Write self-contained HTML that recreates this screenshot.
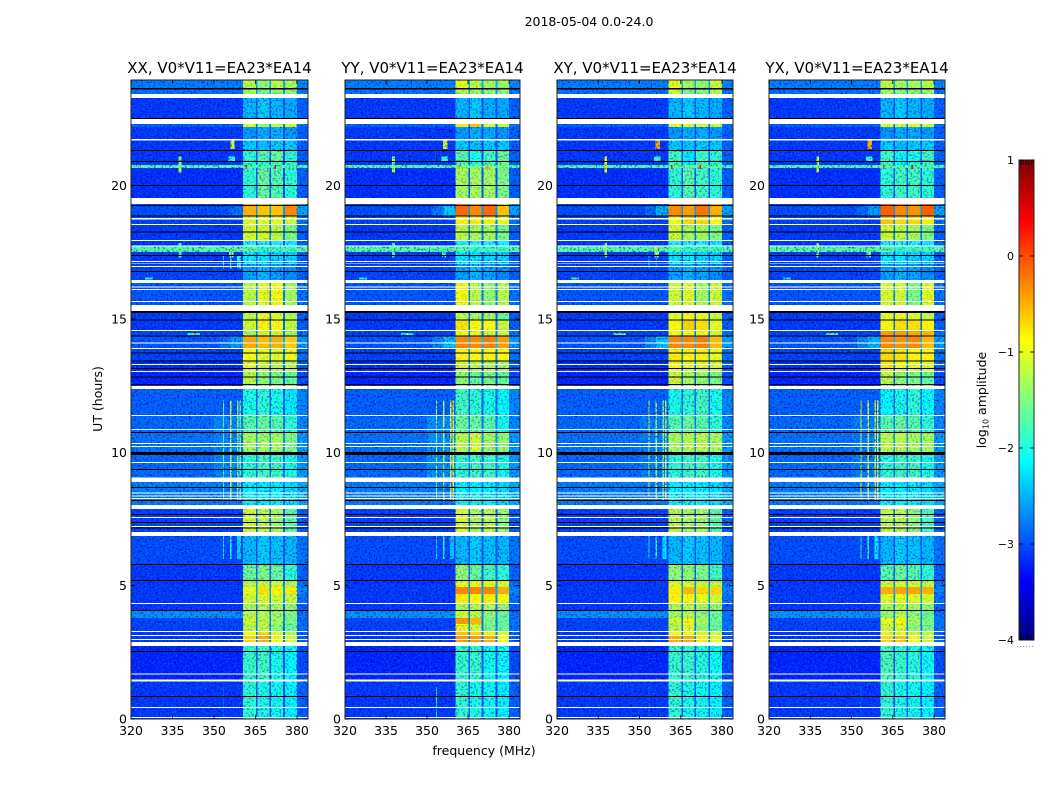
<!DOCTYPE html>
<html>
<head>
<meta charset="utf-8">
<title>2018-05-04 0.0-24.0</title>
<style>
html,body{margin:0;padding:0;background:#fff;width:1050px;height:800px;overflow:hidden}
svg{display:block}
text{font-family:"DejaVu Sans",sans-serif;fill:#000}
</style>
</head>
<body>
<svg id="chart" width="1050" height="800" viewBox="0 0 1050 800" xmlns="http://www.w3.org/2000/svg">
<defs>
<filter id="noiseDark" x="0" y="0" width="100%" height="100%" color-interpolation-filters="sRGB">
<feTurbulence type="fractalNoise" baseFrequency="0.55" numOctaves="1" seed="4"/>
<feColorMatrix type="matrix" values="0 0 0 0 0  0 0 0 0 0  0 0 0 0 0.6  6 0 0 0 -3.1"/>
</filter>
<filter id="noiseLight" x="0" y="0" width="100%" height="100%" color-interpolation-filters="sRGB">
<feTurbulence type="fractalNoise" baseFrequency="0.6" numOctaves="1" seed="11"/>
<feColorMatrix type="matrix" values="0 0 0 0 0  0 0 0 0 0.72  0 0 0 0 1  6 0 0 0 -3.3"/>
</filter>
</defs>
<text x="589" y="26" font-size="12.5" text-anchor="middle">2018-05-04 0.0-24.0</text>
<text x="0" y="0" font-size="12.5" text-anchor="middle" transform="translate(102,399) rotate(-90)">UT (hours)</text>
<text x="484" y="755" font-size="12.5" text-anchor="middle">frequency (MHz)</text>
<text x="0" y="0" font-size="12.5" text-anchor="middle" transform="translate(986,400) rotate(-90)">log<tspan font-size="8" dy="2.5">10</tspan><tspan dy="-2.5"> amplitude</tspan></text>
</svg>
<script>
/* ---------- data ---------- */
var panelNames = ['XX','YY','XY','YX'];
var panelTitle = ', V0*V11=EA23*EA14';
var xTicks = [320,335,350,365,380];
var yTicks = [0,5,10,15,20];
var colorbarTicks = [1,0,-1,-2,-3,-4];
var bandEdges = [[360.5,365.2],[365.8,370],[370.6,375],[375.7,380]];
var gapEdges = [[365.2,365.8],[370,370.6],[375,375.7]];

/* top hour of every time row (descending); last row ends at 0 */
var rowTopHours = [23.96,23.62,23.36,22.38,22.2,21.71,21.3,20.89,20.77,20.66,19.42,18.86,18.56,17.96,17.73,17.51,17.06,16.39,15.41,14.96,14.59,14.36,13.87,13.42,13.01,12.41,11.4,10.72,9.94,8.96,7.95,6.94,5.81,5.17,4.95,4.69,4.31,4.05,3.79,3.56,3.3,3.15,2.81,1.46];
/* log10 amplitude of the band-free background per row */
var backgroundLevels = [-2.75,-2.8,-3.1,-2.9,-3.1,-3.1,-3.1,-3.1,-1.75,-3.15,-3.0,-3.05,-3.1,-3.1,-1.7,-3.1,-3.05,-2.95,-3.1,-3.1,-3.05,-2.95,-3.05,-3.15,-3.2,-2.9,-2.85,-2.8,-2.85,-2.75,-3.05,-3.0,-3.1,-3.1,-3.1,-3.1,-3.1,-2.65,-3.05,-3.05,-3.1,-3.1,-3.2,-3.1];
var gapLevels = [-2.5,-2.6,-2.95,-2.8,-3,-3,-2.95,-2.9,-1.8,-2.95,-2.6,-2.7,-2.75,-2.95,-1.8,-2.95,-3,-2.75,-2.85,-2.85,-2.75,-2.45,-2.75,-2.85,-2.95,-2.85,-2.75,-2.6,-2.75,-2.65,-2.85,-2.95,-2.85,-2.65,-2.55,-2.65,-2.85,-2.75,-2.75,-2.75,-2.75,-2.75,-2.95,-2.95];
var rightEdgeLevels = [-2.7,-2.8,-2.9,-2.8,-2.9,-2.9,-2.9,-2.9,-1.75,-2.9,-2.55,-2.8,-2.9,-2.9,-1.7,-2.9,-2.9,-2.8,-2.9,-2.9,-2.8,-2.6,-2.8,-2.9,-3,-2.7,-2.7,-2.6,-2.6,-2.5,-2.9,-2.8,-2.9,-2.8,-2.7,-2.8,-2.9,-2.8,-2.8,-2.8,-2.9,-2.9,-3,-2.9];

/* four band levels per time row, per polarisation */
var bandLevelsXX = [[-1.2,-1.4,-1.2,-1.3],[-1.3,-1.5,-1.4,-1.4],[-2.45,-2.35,-2.45,-2.5],[-1,-1.3,-1.1,-1],[-2.6,-2.5,-2.5,-2.6],[-2.35,-2.4,-2.35,-2.35],[-1.9,-1.7,-1.6,-1.9],[-1.9,-1.9,-1.8,-1.9],[-1.7,-1.7,-1.7,-1.7],[-1.9,-1.6,-1.7,-1.9],[-0.5,-0.6,-0.6,-0.3],[-1,-1,-1,-1.1],[-1.1,-1.1,-1.2,-1.5],[-2,-1.9,-2,-2.1],[-1.7,-1.9,-1.8,-1.8],[-2.2,-2.2,-2.3,-2.3],[-2.55,-2.45,-2.55,-2.65],[-1.2,-1,-0.9,-1.3],[-1.2,-0.95,-1,-1.25],[-1.1,-0.85,-0.9,-1.2],[-1.3,-1.1,-1.1,-1.3],[-0.45,-0.55,-0.5,-0.65],[-0.9,-1,-1,-0.95],[-1,-1.15,-1.2,-1.2],[-1.2,-1.4,-1.5,-1.6],[-2,-1.9,-2,-2.2],[-1.7,-1.6,-1.7,-1.9],[-1.3,-1.3,-1.3,-1.5],[-1.9,-1.8,-1.8,-2],[-2.15,-2.15,-2.15,-2.25],[-1.1,-1.2,-1.3,-1.7],[-2.45,-2.35,-2.4,-2.45],[-1.6,-1.5,-1.6,-1.9],[-1.2,-1.1,-1.1,-1.3],[-1,-0.75,-0.85,-0.8],[-1.1,-1.05,-1.1,-1.15],[-1.3,-1.2,-1.3,-1.4],[-1.2,-1.2,-1.3,-1.5],[-1.1,-1.2,-1.3,-1.5],[-1.2,-1.2,-1.4,-1.6],[-0.9,-0.7,-1,-1.2],[-0.7,-0.5,-0.9,-1.1],[-1.85,-1.8,-2,-2.1],[-1.9,-2,-2.05,-2.15]];
var bandLevelsYY = [[-1,-1.2,-1.3,-1.3],[-1.2,-1.3,-1.4,-1.4],[-2.45,-2.35,-2.5,-2.5],[-0.8,-0.6,-1,-1.1],[-2.6,-2.5,-2.5,-2.6],[-2.35,-2.4,-2.35,-2.35],[-1.7,-2,-1.8,-1.6],[-1.7,-2,-1.8,-1.6],[-1.5,-1.5,-1.5,-1.5],[-1.3,-1.3,-1.3,-1.5],[-0.15,-0.3,-0.15,-0.6],[-0.8,-0.8,-0.8,-1],[-1.2,-1.3,-1.3,-1.5],[-2,-1.9,-2,-2.1],[-1.7,-1.9,-1.8,-1.8],[-2.2,-2.2,-2.3,-2.3],[-2.55,-2.45,-2.55,-2.65],[-0.9,-1.2,-1.4,-1.2],[-1.2,-1.3,-1.3,-1.6],[-0.75,-0.9,-0.9,-1.15],[-0.95,-1,-1.1,-1.15],[-0.3,-0.3,-0.25,-0.4],[-0.85,-0.9,-0.85,-0.85],[-1.1,-1.2,-1.25,-1.3],[-1.4,-1.6,-1.5,-1.6],[-1.8,-1.9,-2,-2.1],[-1.6,-1.6,-1.7,-2],[-1.2,-1.1,-1.3,-1.4],[-1.9,-1.8,-1.8,-2],[-2.15,-2.15,-2.15,-2.25],[-1.05,-1.3,-1.2,-1.4],[-2.45,-2.35,-2.4,-2.45],[-1.4,-1.6,-1.8,-1.9],[-1,-1,-1,-1.1],[-0.3,-0.3,-0.3,-0.5],[-0.8,-0.85,-0.8,-0.9],[-1.3,-1.2,-1.3,-1.4],[-1.1,-1.2,-1.4,-1.6],[-0.4,-0.55,-1.5,-1.6],[-0.95,-1.1,-1.5,-1.6],[-0.6,-0.7,-0.8,-1],[-0.4,-0.4,-0.5,-0.9],[-1.85,-1.85,-2.05,-2.1],[-1.9,-2,-2.05,-2.15]];
var bandLevelsXY = [[-0.95,-1.3,-1.4,-1.1],[-1.1,-1.5,-1.5,-1.2],[-2.45,-2.35,-2.45,-2.5],[-1,-1,-1.1,-1.1],[-2.6,-2.5,-2.5,-2.6],[-2.35,-2.4,-2.35,-2.35],[-1.8,-2.2,-1.8,-1.9],[-1.8,-2.2,-1.8,-1.9],[-1.6,-1.6,-1.6,-1.6],[-1.9,-1.7,-1.8,-1.9],[-0.3,-0.4,-0.2,-0.5],[-0.9,-0.7,-0.7,-0.9],[-1.1,-1.3,-1.3,-1.5],[-2,-1.9,-2,-2.1],[-1.7,-1.9,-1.8,-1.8],[-2.2,-2.2,-2.3,-2.3],[-2.55,-2.45,-2.55,-2.65],[-1.1,-1,-1.3,-1.1],[-1,-0.85,-0.95,-1.1],[-0.85,-0.65,-0.75,-1],[-0.95,-0.9,-0.95,-1.1],[-0.3,-0.3,-0.25,-0.55],[-0.8,-0.85,-0.85,-1],[-0.9,-1,-1.05,-1.1],[-1.1,-1.3,-1.4,-1.5],[-2,-1.9,-1.8,-2],[-1.7,-1.6,-1.7,-1.9],[-1.3,-1.2,-1.2,-1.3],[-1.9,-1.8,-1.8,-2],[-2.15,-2.15,-2.15,-2.25],[-1.2,-1.3,-1.3,-1.7],[-2.45,-2.35,-2.4,-2.45],[-1.4,-1.4,-1.5,-1.8],[-1,-1.05,-1.1,-1.2],[-0.8,-0.55,-0.7,-0.7],[-0.85,-0.85,-1,-1.1],[-1.3,-1.2,-1.3,-1.4],[-1.3,-1.2,-1.4,-1.6],[-1.1,-0.9,-1.3,-1.6],[-1.2,-1,-1.4,-1.6],[-0.9,-0.9,-1,-1.1],[-0.5,-0.5,-0.8,-1],[-1.85,-1.85,-1.95,-2.05],[-1.9,-2,-2.05,-2.15]];
var bandLevelsYX = [[-1.15,-1.3,-1.3,-1.2],[-1.3,-1.5,-1.4,-1.3],[-2.45,-2.35,-2.45,-2.5],[-1,-1.1,-0.9,-1.1],[-2.6,-2.5,-2.5,-2.6],[-2.35,-2.4,-2.35,-2.35],[-1.8,-2.1,-2,-1.8],[-1.8,-2.1,-2,-1.8],[-1.7,-1.7,-1.7,-1.7],[-1.9,-1.8,-1.8,-1.9],[-0.1,-0.3,-0.35,-0.1],[-0.6,-0.7,-0.7,-0.8],[-1.1,-1.2,-1.3,-1.5],[-2,-1.9,-2,-2.1],[-1.7,-1.9,-1.8,-1.8],[-2.2,-2.2,-2.3,-2.3],[-2.55,-2.45,-2.55,-2.65],[-1.05,-1.1,-1.5,-1],[-1,-0.95,-1,-1.15],[-0.85,-0.75,-0.75,-0.85],[-0.4,-0.4,-0.45,-0.5],[-0.3,-0.35,-0.3,-0.55],[-0.7,-0.75,-0.85,-0.85],[-0.8,-0.9,-1,-1.05],[-1.2,-1.4,-1.5,-1.6],[-2.1,-2,-1.9,-2.1],[-1.7,-1.6,-1.7,-1.9],[-1.2,-1.2,-1.3,-1.3],[-1.9,-1.8,-1.8,-2],[-2.15,-2.15,-2.15,-2.25],[-1.2,-1.2,-1.4,-1.8],[-2.45,-2.35,-2.4,-2.45],[-1.7,-1.6,-1.7,-1.9],[-1.1,-1.1,-1.1,-1.2],[-0.5,-0.45,-0.45,-0.5],[-1,-1,-1,-1.1],[-1.3,-1.2,-1.3,-1.4],[-1.4,-1.2,-1.4,-1.6],[-1,-0.9,-1.3,-1.5],[-1.1,-1,-1.4,-1.5],[-1,-1,-1.1,-1.2],[-0.7,-0.6,-0.9,-1.1],[-1.75,-1.85,-1.95,-2.05],[-1.9,-2,-2.05,-2.15]];

/* flagged (NaN, white) and zero-amplitude (black) time ranges: [hour top, hour bottom] */
var whiteFlags = [[23.43,23.29],[22.5,22.31],[21.75,21.7],[19.54,19.31],[18.78,18.74],[18.56,18.52],[17.96,17.92],[17.75,17.71],[17.17,17.14],[17.09,17.06],[16.98,16.95],[16.46,16.35],[16.22,16.18],[16.12,16.08],[15.67,15.64],[15.52,15.3],[14.59,14.55],[14.12,14.08],[13.91,13.87],[13.31,13.27],[13.05,13.01],[12.49,12.37],[11.4,11.36],[10.87,10.84],[10.35,10.31],[10.24,10.2],[9.64,9.6],[9.06,8.89],[8.49,8.46],[8.38,8.34],[8.29,8.25],[8.02,7.87],[7.57,7.54],[7.24,7.2],[7.01,6.86],[4.35,4.31],[3.3,3.26],[3.15,3.11],[3,2.96],[2.89,2.74],[1.71,1.67],[1.48,1.41],[0.45,0.41],[0.075,0.04]];
var blackFlags = [[23.66,23.61],[22.53,22.51],[21.34,21.3],[20.92,20.89],[20.02,19.99],[19.27,19.24],[18.88,18.84],[18.28,18.24],[17.4,17.36],[16.8,16.76],[15.3,15.22],[14.98,14.94],[14.38,14.34],[13.74,13.7],[13.44,13.4],[13.16,13.12],[12.84,12.8],[12.56,12.52],[10.76,10.72],[10.01,9.9],[9.37,9.34],[8.7,8.66],[8.21,8.17],[7.69,7.65],[7.39,7.35],[7.18,7.14],[5.81,5.77],[5.21,5.17],[4.09,4.05],[2.55,2.51],[0.86,0.82]];

/* RFI and glow features: freq low, freq high, hour top, hour bottom, level XX, YY, XY, YX */
var featureList = [
[350,360.5,11.4,8.96,-2.7,-2.65,-2.75,-2.75],
[352,356,19.27,18.86,-2.95,-2.75,-2.85,-2.85],
[356,360.5,19.27,18.86,-2.8,-2.35,-2.5,-2.6],
[352,356,14.36,13.87,-2.8,-2.7,-2.7,-2.7],
[356,360.5,14.36,13.87,-2.6,-2.4,-2.4,-2.5],
[337.2,338.2,21.1,20.5,-1.4,-1.3,-0.9,-1.1],
[355.9,357.4,21.7,21.37,-1.1,-1,-0.5,-0.5],
[355.2,357.6,21.1,20.89,-1.9,-1.9,-1.8,-1.9],
[337.2,338.2,17.85,17.3,-1.7,-1.7,-1.4,-1.4],
[355.5,357,17.7,17.3,-1.6,-1.8,-1.3,-1.6],
[325,328,16.56,16.48,-2,-2,-1.9,-2],
[340.5,345,14.47,14.4,-1.9,-2.2,-1.8,-1.9],
[342.3,343.2,14.47,14.4,-0.6,-1.2,-0.5,-0.6],
[361.4,362,20.77,20.62,0.2,-0.5,0.2,0.1],
[371.8,372.4,20.77,20.62,0.3,-0.4,0.3,0.3],
[353.2,353.7,11.95,8.2,-1.7,-1.4,-1.3,-1],
[355.8,356.3,11.95,8.2,-1.2,-1.3,-1.4,-1.1],
[358.4,358.9,11.95,8.2,-1.5,-1.1,-1.5,-1.4],
[359.3,359.8,11.95,8.2,-1.6,-1,-1.2,-1],
[353.2,353.7,6.9,6,-2.2,-2.3,-2.1,-2.1],
[355.8,356.3,6.9,6,-2,-2,-2,-2],
[358.4,359.8,6.9,6,-2.3,-2.4,-2.2,-2.2],
[353.2,353.7,1.2,0,-2.9,-2.1,-2.9,-2.9],
[353.2,353.7,17.4,16.9,-1.8,-3,-2.4,-3],
[355.8,356.3,17.4,16.9,-1.8,-3,-2.6,-3],
[358.4,359.8,17.4,16.9,-2,-3,-3,-3]
];

/* ---------- layout ---------- */
var panelLeft = [131,345,557,769];
var panelWidth = [177,175,176,176];
var frameTop = 80, plotTop = 79, plotBottom = 719;
var xMin = 320, xMax = 384, hourMax = 24;
var cbLeft = 1019, cbRight = 1034, cbTop = 160, cbBottom = 640;
var svg = document.getElementById('chart');
var NS = 'http://www.w3.org/2000/svg';

function xScale(p, f){ return panelLeft[p] + (f - xMin) / (xMax - xMin) * panelWidth[p]; }
function yScale(h){ return plotBottom - h / hourMax * (plotBottom - plotTop); }
function cbScale(l){ return cbBottom - (l + 4) / 5 * (cbBottom - cbTop); }
function clamp(v){ return Math.max(0, Math.min(1, v)); }
function jet(level){
  var v = (level + 4) / 5;
  var r = clamp(Math.min(4*v-1.5, -4*v+4.5));
  var g = clamp(Math.min(4*v-0.5, -4*v+3.5));
  var b = clamp(Math.min(4*v+0.5, -4*v+2.5));
  return 'rgb(' + Math.round(r*255) + ',' + Math.round(g*255) + ',' + Math.round(b*255) + ')';
}
function make(tag, attrs, parent){
  var el = document.createElementNS(NS, tag);
  for (var k in attrs) el.setAttribute(k, attrs[k]);
  (parent || svg).appendChild(el);
  return el;
}
function drawBlock(g, p, f0, f1, h0, h1, fill){
  var x0 = xScale(p, f0), x1 = xScale(p, f1), y0 = yScale(h0), y1 = yScale(h1);
  return make('rect', {x:x0, y:y0, width:Math.max(x1-x0,0.8), height:Math.max(y1-y0,0.8), fill:fill, 'shape-rendering':'crispEdges'}, g);
}
function drawNoise(g, p, f0, f1, h0, h1, filterId, opacity){
  var x0 = xScale(p, f0), x1 = xScale(p, f1), y0 = yScale(h0), y1 = yScale(h1);
  return make('rect', {x:x0, y:y0, width:x1-x0, height:y1-y0, fill:'#000', filter:'url(#' + filterId + ')', opacity:opacity}, g);
}

var bandSets = [bandLevelsXX, bandLevelsYY, bandLevelsXY, bandLevelsYX];

panelNames.forEach(function(name, p){
  var g = make('g', {});
  
  

  rowTopHours.forEach(function(top, r){
    var bottom = r + 1 < rowTopHours.length ? rowTopHours[r + 1] : 0;
    var bg = drawBlock(g, p, xMin, bandEdges[0][0], top, bottom, jet(backgroundLevels[r]));
    
    
    var right = drawBlock(g, p, bandEdges[3][1], xMax, top, bottom, jet(rightEdgeLevels[r]));
    
    
    gapEdges.forEach(function(edge){
      var gap = drawBlock(g, p, edge[0], edge[1], top, bottom, jet(gapLevels[r]));
      
      
    });
    bandEdges.forEach(function(edge, b){
      var cell = drawBlock(g, p, edge[0], edge[1], top, bottom, jet(bandSets[p][r][b]));
      
      
    });
  });

  featureList.forEach(function(fe){
    var mark = drawBlock(g, p, fe[0], fe[1], fe[2], fe[3], jet(fe[4 + p]));
    
    
  });

  /* speckle: strong over the background, weaker over bright bands */
  var darkLeft = drawNoise(g, p, xMin, bandEdges[0][0], hourMax, 0, 'noiseDark', 0.55);
  
  
  var lightLeft = drawNoise(g, p, xMin, bandEdges[0][0], hourMax, 0, 'noiseLight', 0.32);
  
  
  var darkRight = drawNoise(g, p, bandEdges[3][1], xMax, hourMax, 0, 'noiseDark', 0.55);
  
  
  var lightRight = drawNoise(g, p, bandEdges[3][1], xMax, hourMax, 0, 'noiseLight', 0.3);
  
  
  rowTopHours.forEach(function(top, r){
    var bottom = r + 1 < rowTopHours.length ? rowTopHours[r + 1] : 0;
    var lv = bandSets[p][r];
    var mean = (lv[0] + lv[1] + lv[2] + lv[3]) / 4;
    var s = clamp((-0.7 - mean) / 1.5);
    var nd = drawNoise(g, p, bandEdges[0][0], bandEdges[3][1], top, bottom, 'noiseDark', 0.08 + 0.42 * s);
    
    
    var nl = drawNoise(g, p, bandEdges[0][0], bandEdges[3][1], top, bottom, 'noiseLight', 0.03 + 0.2 * s);
    
    
  });

  whiteFlags.forEach(function(fl){
    var w = drawBlock(g, p, xMin, xMax, fl[0], fl[1], '#fff');
    
    
  });
  blackFlags.forEach(function(fl){
    var k = drawBlock(g, p, xMin, xMax, fl[0], fl[1], '#000');
    
    
  });

  var px = panelLeft[p], pw = panelWidth[p];
  var cover = make('rect', {x:px-1, y:frameTop-3, width:pw+2, height:3, fill:'#fff'}, g);
  
  
  var frame = make('rect', {x:px, y:frameTop, width:pw, height:plotBottom-frameTop, fill:'none', stroke:'#222', 'stroke-width':1}, g);
  
  

  var title = make('text', {x:px + pw/2, y:73, 'font-size':15, 'text-anchor':'middle'}, g);
  title.textContent = name + panelTitle;
  
  

  xTicks.forEach(function(t){
    var x = xScale(p, t);
    var t1 = make('line', {x1:x, x2:x, y1:plotBottom, y2:plotBottom-4, stroke:'#000', 'stroke-width':0.8}, g);
    
    
    var t2 = make('line', {x1:x, x2:x, y1:frameTop, y2:frameTop+4, stroke:'#000', 'stroke-width':0.8}, g);
    
    
    var lab = make('text', {x:x, y:735, 'font-size':12.5, 'text-anchor':'middle'}, g);
    lab.textContent = String(t);
    
    
  });
  yTicks.forEach(function(t){
    var y = yScale(t);
    var t1 = make('line', {x1:px, x2:px+4, y1:y, y2:y, stroke:'#000', 'stroke-width':0.8}, g);
    
    
    var t2 = make('line', {x1:px+pw, x2:px+pw-4, y1:y, y2:y, stroke:'#000', 'stroke-width':0.8}, g);
    
    
    var lab = make('text', {x:px-4, y:y+4.5, 'font-size':12.5, 'text-anchor':'end'}, g);
    lab.textContent = String(t);
    
    
  });
});

/* ---------- colorbar ---------- */
var cb = make('g', {});


for (var lv = -4; lv < 1; lv += 0.02) {
  var seg = make('rect', {x:cbLeft, y:cbScale(lv + 0.02), width:cbRight-cbLeft, height:(cbBottom-cbTop)*0.02/5 + 0.6, fill:jet(lv + 0.01), 'shape-rendering':'crispEdges'}, cb);
  
  
}
var cbFrame = make('rect', {x:cbLeft, y:cbTop, width:cbRight-cbLeft, height:cbBottom-cbTop, fill:'none', stroke:'#222', 'stroke-width':1}, cb);


colorbarTicks.forEach(function(t){
  var y = cbScale(t);
  var a = make('line', {x1:cbLeft, x2:cbLeft+4, y1:y, y2:y, stroke:'#000', 'stroke-width':0.8}, cb);
  
  
  var b = make('line', {x1:cbRight, x2:cbRight-4, y1:y, y2:y, stroke:'#000', 'stroke-width':0.8}, cb);
  
  
  var lab = make('text', {x:1014, y:y+4, 'font-size':11, 'text-anchor':'end'}, cb);
  lab.textContent = (t < 0 ? '\u2212' + Math.abs(t) : String(t));
  
  
});
for (var m = 0; m < 5; m++) {
  var mx = cbLeft + 2 + m * 2.6;
  var up = make('line', {x1:mx, x2:mx, y1:cbTop, y2:cbTop+5, stroke:'#000', 'stroke-width':0.7}, cb);
  
  
  var dn = make('line', {x1:mx, x2:mx, y1:cbBottom, y2:cbBottom-5, stroke:'#000', 'stroke-width':0.7}, cb);
  
  
}
var dots = make('line', {x1:1017, x2:1035, y1:646.5, y2:646.5, stroke:'#999', 'stroke-width':1, 'stroke-dasharray':'1 2'}, cb);


</script>
</body>
</html>
